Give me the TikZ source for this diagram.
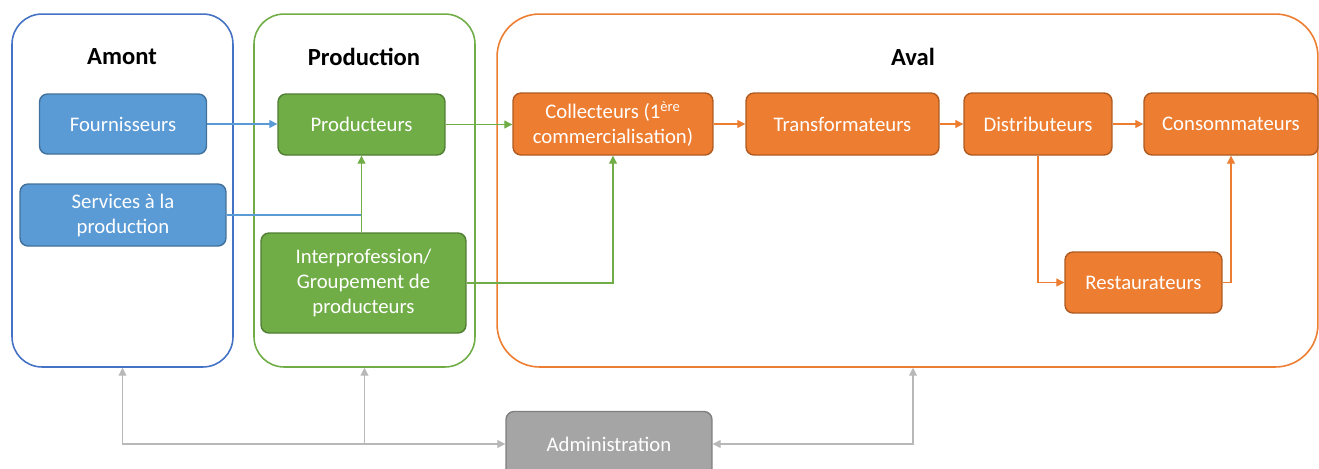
\documentclass[tikz,border=0pt]{standalone}
\usepackage{xcolor}
\usepackage{fontspec}
\setmainfont{Carlito}
\usepackage{tikz}
\usetikzlibrary{positioning, calc, arrows.meta}

\definecolor{amontblue}{HTML}{4472C4}
\definecolor{bluefill}{HTML}{5B9BD5}
\definecolor{blueline}{HTML}{41719C}
\definecolor{greenfill}{HTML}{70AD47}
\definecolor{greenline}{HTML}{507E32}
\definecolor{orangefill}{HTML}{ED7D31}
\definecolor{orangeline}{HTML}{AE5A21}
\definecolor{greyfill}{HTML}{A5A5A5}
\definecolor{greyline}{HTML}{7F7F7F}
\definecolor{greylink}{HTML}{B8B8B8}

\begin{document}
\begin{tikzpicture}[x=0.02cm, y=-0.02cm,
	frame/.style={draw, line width=0.9pt, rounded corners=0.6cm, inner sep=0pt},
	title/.style={font=\fontsize{14}{16}\selectfont\bfseries},
	actor/.style={draw, rounded corners=0.16cm, line width=0.8pt, text=white, align=center, inner sep=1pt, font=\fontsize{11.8}{14.2}\selectfont},
	bluebox/.style={actor, fill=bluefill, draw=blueline},
	greenbox/.style={actor, fill=greenfill, draw=greenline},
	orangebox/.style={actor, fill=orangefill, draw=orangeline},
	greybox/.style={actor, fill=greyfill, draw=greyline},
	link/.style={line width=0.6pt, -{Triangle[length=4.5pt,width=4.5pt]}},
	]
	
	\useasboundingbox (0,0) rectangle (1319,468);
	
	%//frames
	\node (amont) [frame, draw=amontblue, minimum width=4.42cm, minimum height=7.06cm] at (122.5,190.5) {};
	\node (prod) [frame, draw=greenfill, minimum width=4.42cm, minimum height=7.06cm] at (364.5,190.5) {};
	\node (aval) [frame, draw=orangefill, rounded corners=0.85cm, minimum width=16.42cm, minimum height=7.06cm] at (907.5,190.5) {};
	
	\node (amontT) [title] at (122,57) {Amont};
	\node (prodT) [title] at (364,57) {Production};
	\node (avalT) [title] at (913,57) {Aval};
	
	%//amont
	\node (fourn) [bluebox, minimum width=3.34cm, minimum height=1.2cm] at (123,124) {Fournisseurs};
	\node (serv) [bluebox, minimum width=4.12cm, minimum height=1.24cm] at (123,215) {Services à la\\production};
	
	%//production
	\node (producteurs) [greenbox, minimum width=3.34cm, minimum height=1.22cm] at (361.5,124.5) {Producteurs};
	\node (inter) [greenbox, minimum width=4.1cm, minimum height=2cm] at (363.5,283) {Interprofession/\\Groupement de\\producteurs};
	
	%//aval
	\node (coll) [orangebox, minimum width=4cm, minimum height=1.24cm] at (613,124) {Collecteurs (1\textsuperscript{ère}\\commercialisation)};
	\node (trans) [orangebox, minimum width=3.86cm, minimum height=1.24cm] at (842.5,124) {Transformateurs};
	\node (dist) [orangebox, minimum width=2.96cm, minimum height=1.24cm] at (1038,124) {Distributeurs};
	\node (cons) [orangebox, minimum width=3.48cm, minimum height=1.24cm] at (1231,124) {Consommateurs};
	\node (rest) [orangebox, minimum width=3.14cm, minimum height=1.22cm] at (1143.5,282.5) {Restaurateurs};
	
	\node (admin) [greybox, minimum width=4.12cm, minimum height=1.3cm] at (609,444) {Administration};
	
	%//connectors
	\draw [link, bluefill] (fourn.east) -- (fourn.east -| producteurs.west);
	\draw [line width=0.6pt, bluefill] (serv.east) -- (serv.east -| producteurs.south);
	\draw [link, greenfill] (producteurs.south |- inter.north) -- (producteurs.south);
	\draw [link, greenfill] (producteurs.east) -- (producteurs.east -| coll.west);
	\draw [link, greenfill] (inter.east) -| (coll.south);
	
	\foreach \a/\b in {coll/trans, trans/dist, dist/cons}
	\draw [link, orangefill] (\a.east) -- (\b.west);
	\draw [link, orangefill] (dist.south) |- (rest.west);
	\draw [link, orangefill] (rest.east) -| (cons.south);
	
	\draw [link, greylink, {Triangle[length=4.5pt,width=4.5pt]}-{Triangle[length=4.5pt,width=4.5pt]}] (amont.south) |- (admin.west);
	\draw [link, greylink] (prod.south |- admin.west) -- (prod.south);
	\draw [link, greylink, {Triangle[length=4.5pt,width=4.5pt]}-{Triangle[length=4.5pt,width=4.5pt]}] (admin.east) -| (avalT |- aval.south);
	
\end{tikzpicture}
\end{document}
